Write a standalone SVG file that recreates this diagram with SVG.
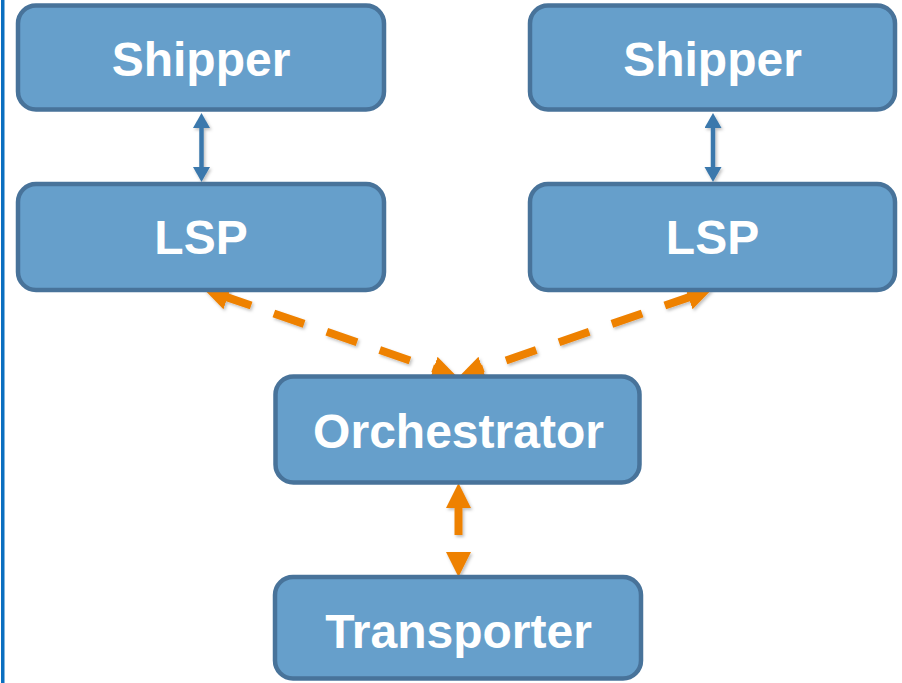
<svg xmlns="http://www.w3.org/2000/svg" width="902" height="683" viewBox="0 0 902 683">
  <style>
    .box { fill: #669fcb; stroke: #48739a; stroke-width: 4.5; }
    .label { fill: #ffffff; font-family: "Liberation Sans", Arial, sans-serif; font-weight: bold; font-size: 48px; text-anchor: middle; }
    .link { fill: none; stroke: #3a78ac; stroke-width: 4.5; }
    .flow { fill: none; stroke: #ee8100; stroke-width: 8; stroke-dasharray: 32 24; }
  </style>
  <defs>
    <filter id="soft" x="-20%" y="-20%" width="140%" height="140%">
      <feDropShadow dx="1.5" dy="2" stdDeviation="1.5" flood-color="#000" flood-opacity="0.25"/>
    </filter>
    <marker id="blueHead" markerUnits="userSpaceOnUse" markerWidth="16" markerHeight="18" refX="1" refY="8.5" orient="auto-start-reverse">
      <path d="M0,0 L15,8.5 L0,17 z" fill="#3a78ac"/>
    </marker>
    <marker id="orangeHead" markerUnits="userSpaceOnUse" markerWidth="28" markerHeight="26" refX="1" refY="12.5" orient="auto-start-reverse">
      <path d="M0,0 L25,12.5 L0,25 z" fill="#ee8100"/>
    </marker>
  </defs>

  <rect width="902" height="683" fill="#ffffff"/>
  <!-- frame rule on the left edge -->
  <rect x="1" y="0" width="3.5" height="683" fill="#0b6fc0"/>

  <g id="connectors" filter="url(#soft)">
    <line class="link" x1="201.5" y1="127" x2="201.5" y2="168" marker-start="url(#blueHead)" marker-end="url(#blueHead)"/>
    <line class="link" x1="713" y1="127" x2="713" y2="168" marker-start="url(#blueHead)" marker-end="url(#blueHead)"/>
    <line class="flow" style="stroke-dashoffset:6" x1="226.6" y1="297.1" x2="434.4" y2="368.9" marker-start="url(#orangeHead)" marker-end="url(#orangeHead)"/>
    <line class="flow" style="stroke-dashoffset:6" x1="689.4" y1="297.1" x2="481.6" y2="368.9" marker-start="url(#orangeHead)" marker-end="url(#orangeHead)"/>
    <line class="flow" style="stroke-dashoffset:4" x1="458.5" y1="507" x2="458.5" y2="553" marker-start="url(#orangeHead)" marker-end="url(#orangeHead)"/>
  </g>

  <g id="shipper-left">
    <rect class="box" x="18" y="5.5" width="366" height="104" rx="18"/>
    <text class="label" x="201" y="76">Shipper</text>
  </g>
  <g id="shipper-right">
    <rect class="box" x="530" y="5.5" width="365" height="104" rx="18"/>
    <text class="label" x="712.5" y="76">Shipper</text>
  </g>
  <g id="lsp-left">
    <rect class="box" x="18" y="184" width="366" height="106" rx="18"/>
    <text class="label" x="201" y="254">LSP</text>
  </g>
  <g id="lsp-right">
    <rect class="box" x="530" y="184" width="365" height="106" rx="18"/>
    <text class="label" x="712.5" y="254">LSP</text>
  </g>
  <g id="orchestrator">
    <rect class="box" x="275.5" y="376.5" width="364" height="106" rx="18"/>
    <text class="label" x="458.5" y="448">Orchestrator</text>
  </g>
  <g id="transporter">
    <rect class="box" x="275" y="577" width="366" height="101.5" rx="18"/>
    <text class="label" x="458.5" y="648">Transporter</text>
  </g>
</svg>
